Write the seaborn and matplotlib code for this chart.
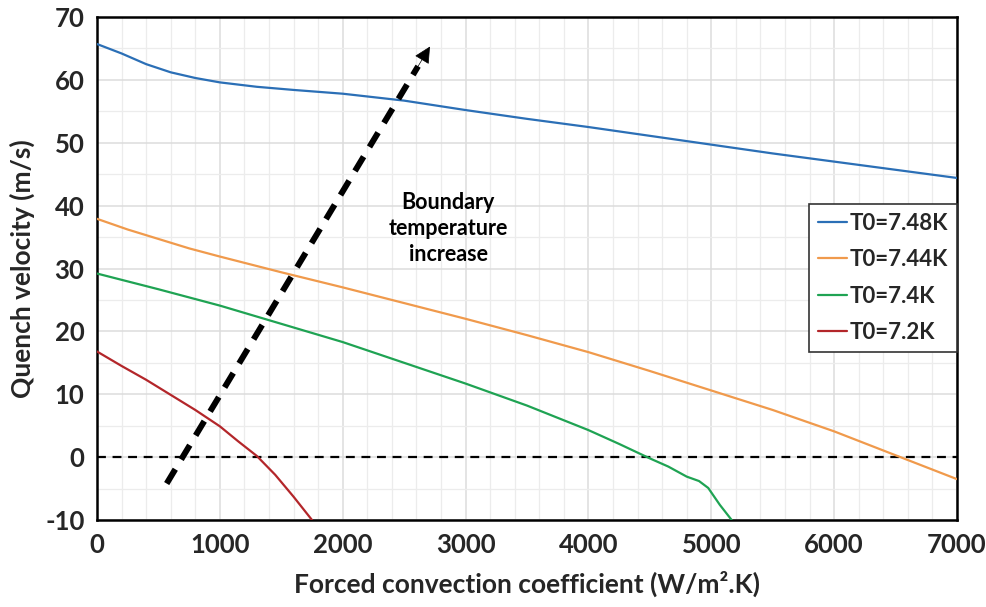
import numpy as np
import pandas as pd
import matplotlib
matplotlib.use("Agg")
import matplotlib.pyplot as plt
from matplotlib.ticker import MultipleLocator
import seaborn as sns

# Quench velocity vs forced convection coefficient, one curve per boundary temperature
h_748 = [0, 200, 400, 600, 800, 1000, 1300, 1600, 2000, 2500, 3000, 3500, 4000, 4500, 5000, 5500, 6000, 6500, 7000]
v_748 = [65.7, 64.2, 62.5, 61.2, 60.3, 59.6, 58.9, 58.4, 57.8, 56.7, 55.2, 53.8, 52.5, 51.1, 49.7, 48.3, 47.0, 45.7, 44.4]

h_744 = [0, 250, 500, 750, 1000, 1500, 2000, 2500, 3000, 3500, 4000, 4500, 5000, 5500, 6000, 6500, 7000]
v_744 = [37.9, 36.2, 34.7, 33.2, 31.9, 29.4, 27.0, 24.5, 22.0, 19.4, 16.7, 13.7, 10.6, 7.5, 4.1, 0.3, -3.5]

h_740 = [0, 500, 1000, 1500, 2000, 2500, 3000, 3500, 4000, 4250, 4500, 4650, 4800, 4900, 4975, 5070, 5166]
v_740 = [29.2, 26.7, 24.1, 21.2, 18.3, 15.0, 11.7, 8.2, 4.3, 2.1, -0.2, -1.5, -3.1, -3.8, -4.9, -7.6, -10.0]

h_720 = [0, 200, 400, 600, 800, 900, 1000, 1150, 1300, 1450, 1600, 1750]
v_720 = [16.8, 14.5, 12.3, 9.9, 7.5, 6.2, 4.9, 2.5, 0.2, -2.8, -6.3, -10.0]

labels = ["T0=7.48K", "T0=7.44K", "T0=7.4K", "T0=7.2K"]
colors = ["#2b6fb6", "#f09a4c", "#1fa353", "#b3262a"]

frames = []
for lab, h, v in zip(labels, [h_748, h_744, h_740, h_720], [v_748, v_744, v_740, v_720]):
    frames.append(pd.DataFrame({"h": h, "v": v, "series": lab}))
df = pd.concat(frames, ignore_index=True)

sns.set_theme(style="white")
plt.rcParams["font.family"] = ["Lato", "DejaVu Sans"]
plt.rcParams["font.weight"] = "bold"
plt.rcParams["axes.unicode_minus"] = False

fig = plt.figure(figsize=(9.87, 6.07), dpi=100)
ax = fig.add_axes([0.0983, 0.1433, 0.8713, 0.8287])

# grid: light minor lines, slightly darker major lines
ax.xaxis.set_major_locator(MultipleLocator(1000))
ax.xaxis.set_minor_locator(MultipleLocator(200))
ax.yaxis.set_major_locator(MultipleLocator(10))
ax.yaxis.set_minor_locator(MultipleLocator(5))
ax.grid(which="minor", color="#ececec", lw=0.9)
ax.grid(which="major", color="#dcdcdc", lw=1.1)
ax.set_axisbelow(True)

# zero-velocity reference
ax.axhline(0, color="black", lw=1.6, ls=(0, (4, 3)), zorder=2)

sns.lineplot(data=df, x="h", y="v", hue="series", hue_order=labels,
             palette=colors, lw=1.6, ax=ax, sort=False, estimator=None, zorder=3)

ax.set_xlim(0, 7000)
ax.set_ylim(-10, 70)

# trend arrow: dashed shaft plus a solid head
x0, y0 = 567, -4.2
x1, y1 = 2710, 65.3
f = 0.955
xs, ys = x0 + f * (x1 - x0), y0 + f * (y1 - y0)
ax.plot([x0, xs], [y0, ys], color="black", lw=4.3, ls=(0, (2.8, 1.9)),
        solid_capstyle="butt", zorder=4)
ax.annotate("", xy=(x1, y1), xytext=(xs - 0.01 * (x1 - x0), ys - 0.01 * (y1 - y0)),
            arrowprops=dict(arrowstyle="-|>", mutation_scale=26, lw=0.5,
                            color="black", shrinkA=0, shrinkB=0), zorder=4)

ax.text(2857, 36.3, "Boundary\ntemperature\nincrease", ha="center", va="center",
        fontsize=15.5, fontweight="bold", linespacing=1.3, color="black")

for s in ax.spines.values():
    s.set_color("black")
    s.set_linewidth(1.8)

ax.tick_params(axis="both", which="both", length=0, labelsize=18.5, pad=9)
for t in ax.get_xticklabels() + ax.get_yticklabels():
    t.set_fontweight("bold")

ax.set_xlabel("Forced convection coefficient (W/m².K)", fontsize=19,
              fontweight="bold", labelpad=10)
ax.set_ylabel("Quench velocity (m/s)", fontsize=19, fontweight="bold", labelpad=7)

leg = ax.legend(loc="upper right", bbox_to_anchor=(1.0, 0.629), borderaxespad=0,
                frameon=True, fancybox=False, edgecolor="#333333", framealpha=1,
                fontsize=16, handlelength=1.3, handletextpad=0.12,
                labelspacing=0.7, borderpad=0.4, title=None)
leg.get_frame().set_linewidth(1.2)
for t in leg.get_texts():
    t.set_fontweight("bold")
for l in leg.get_lines():
    l.set_linewidth(1.6)

fig.savefig("out.png", dpi=100)
